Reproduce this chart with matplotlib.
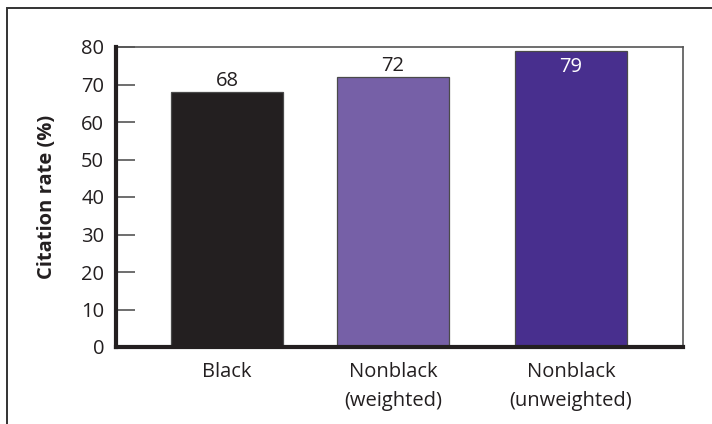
import matplotlib
matplotlib.use("Agg")
import matplotlib.pyplot as plt
from matplotlib.patches import Rectangle

# Citation rates by group
categories = ["Black", "Nonblack\n(weighted)", "Nonblack\n(unweighted)"]
rates = [68, 72, 79]
bar_colors = ["#231f20", "#7660a7", "#482f8e"]
label_colors = ["#231f20", "#231f20", "#ffffff"]
y_ticks = [0, 10, 20, 30, 40, 50, 60, 70, 80]

plt.rcParams["font.family"] = ["Open Sans", "DejaVu Sans"]

W, H = 712, 424
fig = plt.figure(figsize=(W / 100, H / 100), dpi=100)
fig.patch.set_facecolor("white")

# outer frame running off the right and bottom edges
frame = Rectangle((7 / W, -0.1), 1.2, 1 - 8 / H + 0.1, transform=fig.transFigure,
                  fill=False, edgecolor="#333333", linewidth=1.4, clip_on=False)
fig.patches.append(frame)

ax = fig.add_axes([116 / W, 1 - 347 / H, (683 - 116) / W, (347 - 47) / H])

xs = [0, 0.965, 2.0]
bars = ax.bar(xs, rates, width=0.65, color=bar_colors, edgecolor="#4a4a4a",
              linewidth=0.9, zorder=2)

for x, v, c in zip(xs, rates, label_colors):
    if c == "#ffffff":
        ax.text(x, v - 1.6, f"{v}", ha="center", va="top", color=c, fontsize=14.5)
    else:
        ax.text(x, v + 0.3, f"{v}", ha="center", va="bottom", color=c, fontsize=14.5)

ax.set_xlim(-0.645, 2.651)
ax.set_ylim(0, 80)
ax.set_yticks(y_ticks)
ax.set_yticklabels([str(t) for t in y_ticks], fontsize=14.5, color="#231f20")
ax.set_xticks(xs)
ax.set_xticklabels(categories, fontsize=14.5, color="#231f20", linespacing=1.55)

ax.tick_params(axis="y", direction="in", length=13.5, width=1.2, color="#555555", pad=8.5)
ax.tick_params(axis="x", length=0, pad=11)

for side in ("top", "right"):
    ax.spines[side].set_color("#555555")
    ax.spines[side].set_linewidth(1.2)
for side in ("left", "bottom"):
    ax.spines[side].set_color("#231f20")
    ax.spines[side].set_linewidth(3)
    ax.spines[side].set_zorder(3)

ax.set_ylabel("Citation rate (%)", fontsize=14.5, fontweight="bold",
              color="#231f20", labelpad=17)

fig.savefig("out.png", dpi=100, facecolor="white")
